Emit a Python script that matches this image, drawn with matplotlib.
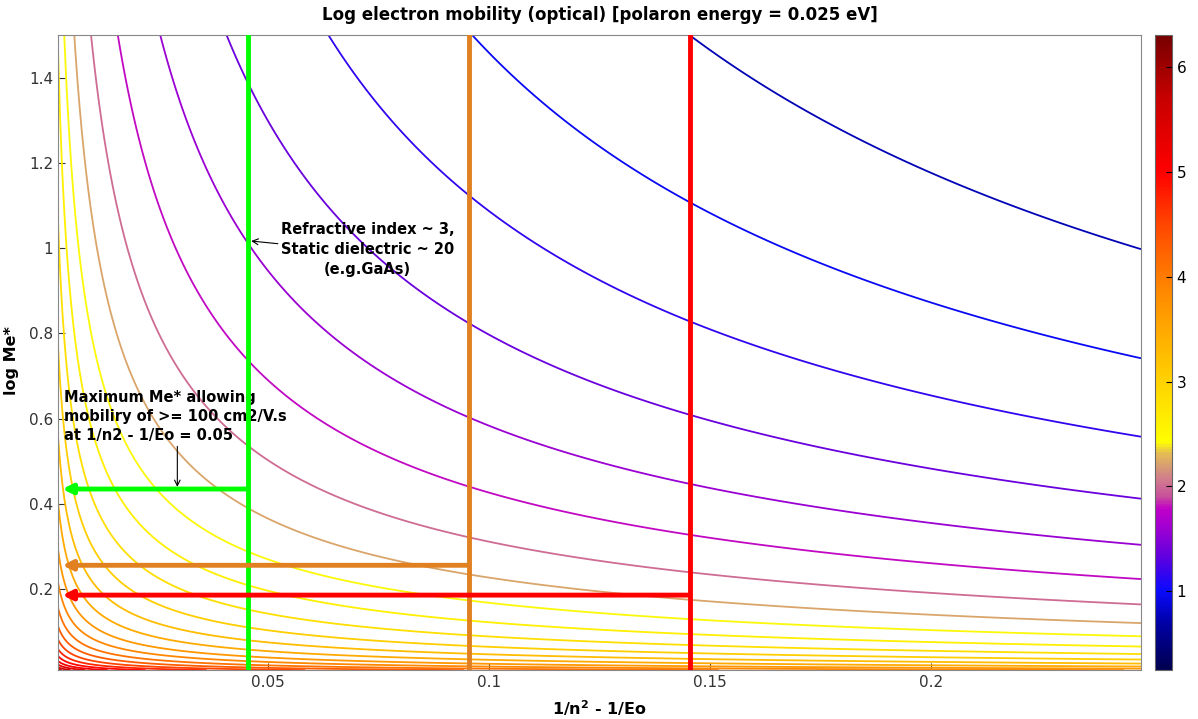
import matplotlib
matplotlib.use('Agg')
import matplotlib.pyplot as plt
import numpy as np
from matplotlib.colors import LinearSegmentedColormap, Normalize

# axis ranges
x_range = [0.0025, 0.2475]
y_range = [0.01, 1.5]

# log mobility ~ c0 - log10(x) - 1.5*log10(Me*) - 3*log10(1 + alpha/6),
# with coupling alpha = kappa * x * sqrt(Me*)  (constants fitted by eye)
c0 = 0.28
mass_power = 1.5
kappa = 2.5

levels = [0.76, 0.97, 1.17, 1.38, 1.59, 1.80, 2.01, 2.22, 2.42, 2.63, 2.84,
          3.05, 3.26, 3.47, 3.68, 3.88, 4.09, 4.30, 4.51, 4.72, 4.93, 5.14,
          5.34, 5.55, 5.76]

# marker lines: (x of material, log Me* limit, colour)
mat_x = [0.0455, 0.0955, 0.1455]
mat_y = [0.435, 0.256, 0.186]
mat_colors = ['#00ff00', '#e08020', '#ff0000']

cbar_ticks = [1, 2, 3, 4, 5, 6]
clim = [0.25, 6.3]

# colormap anchors taken from the colorbar
cmap_pts = [
    (0.25, '#000050'), (0.7, '#0000a8'), (1.0, '#0a0aff'), (1.3, '#5a00e0'),
    (1.6, '#a000d2'), (1.78, '#c000c8'), (1.9, '#c8509a'), (2.05, '#d07890'),
    (2.2, '#d8a070'), (2.32, '#e6c050'), (2.42, '#ffff00'), (3.0, '#ffd200'),
    (3.5, '#ffa800'), (4.0, '#ff7c00'), (4.5, '#ff4600'), (5.0, '#ff0000'),
    (5.7, '#c80000'), (6.3, '#780000'),
]
cmap = LinearSegmentedColormap.from_list(
    'mob', [((v - clim[0]) / (clim[1] - clim[0]), c) for v, c in cmap_pts])

x = np.linspace(x_range[0], x_range[1], 500)
y = np.linspace(y_range[0], y_range[1], 600)
X, Y = np.meshgrid(x, y)
alpha = kappa * X * np.sqrt(Y)
Z = c0 - np.log10(X) - mass_power * np.log10(Y) - 3 * np.log10(1 + alpha / 6)

fig = plt.figure(figsize=(11.98, 7.19), dpi=100)
ax = fig.add_axes([0.0484, 0.068, 0.904, 0.883])
norm = Normalize(vmin=clim[0], vmax=clim[1])
cs = ax.contour(X, Y, Z, levels=levels, cmap=cmap, norm=norm, linewidths=1.3)

for xm, ym, col in zip(mat_x, mat_y, mat_colors):
    ax.plot([xm, xm], [y_range[0], y_range[1]], color=col, lw=3.5, zorder=5)
    ax.annotate('', xy=(x_range[0] + 0.001, ym), xytext=(xm, ym),
                arrowprops=dict(arrowstyle='-|>', color=col, lw=3.5,
                                mutation_scale=14, shrinkA=0, shrinkB=0),
                zorder=5)

ax.annotate('Refractive index ~ 3,\nStatic dielectric ~ 20\n(e.g.GaAs)',
            xy=(0.0462, 1.017), xytext=(0.0725, 0.997), ha='center', va='center',
            fontsize=10.5, fontweight='bold', linespacing=1.45,
            arrowprops=dict(arrowstyle='->', color='black', lw=0.8,
                            shrinkA=0, shrinkB=0,
                            relpos=(0.0, 0.6)))
ax.text(0.0038, 0.605, 'Maximum Me* allowing\nmobiliry of >= 100 cm2/V.s\nat 1/n2 - 1/Eo = 0.05',
        ha='left', va='center', fontsize=10.5, fontweight='bold', linespacing=1.3)
ax.annotate('', xy=(0.0295, 0.44), xytext=(0.0295, 0.535),
            arrowprops=dict(arrowstyle='->', color='black', lw=0.8, shrinkA=0, shrinkB=0))

ax.set_xlim(x_range)
ax.set_ylim(y_range)
ax.set_xticks([0.05, 0.1, 0.15, 0.2])
ax.set_xticklabels(['0.05', '0.1', '0.15', '0.2'])
ax.set_yticks([0.2, 0.4, 0.6, 0.8, 1.0, 1.2, 1.4])
ax.set_yticklabels(['0.2', '0.4', '0.6', '0.8', '1', '1.2', '1.4'])
ax.tick_params(direction='in', labelsize=11, length=5, colors='#333333')
for s in ax.spines.values():
    s.set_color('#888888')
ax.set_title('Log electron mobility (optical) [polaron energy = 0.025 eV]',
             fontsize=12, fontweight='bold', pad=11)
ax.set_xlabel('1/n$^\\mathbf{2}$ - 1/Eo', fontsize=11.5, fontweight='bold', labelpad=6)
ax.set_ylabel('log Me*', fontsize=11.5, fontweight='bold')
ax.yaxis.set_label_coords(-0.036, 0.487)

cax = fig.add_axes([0.9645, 0.068, 0.0135, 0.883])
sm = plt.cm.ScalarMappable(norm=norm, cmap=cmap)
cb = fig.colorbar(sm, cax=cax, ticks=cbar_ticks)
cb.ax.tick_params(direction='in', labelsize=11, length=4)
cb.outline.set_edgecolor('#666666')

fig.savefig('out.png', dpi=100)
